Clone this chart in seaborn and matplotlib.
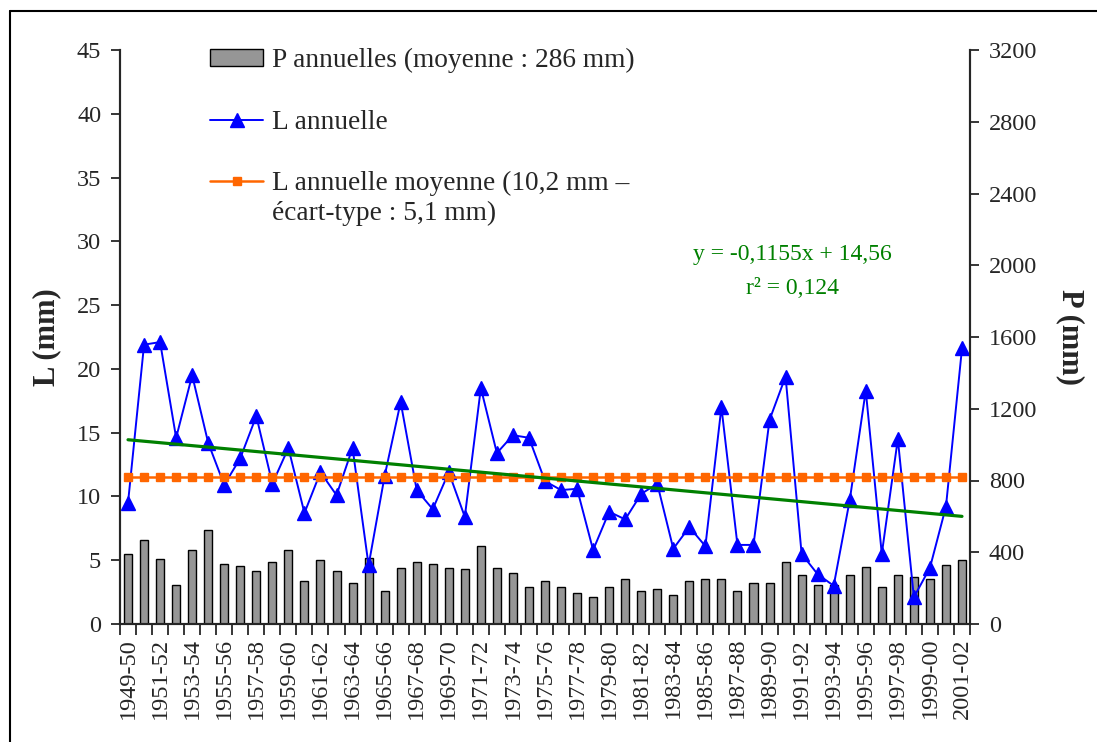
import numpy as np
import pandas as pd
import matplotlib
matplotlib.use("Agg")
import matplotlib.pyplot as plt
import seaborn as sns
from matplotlib.lines import Line2D

# saisons hydrologiques
seasons = ["1949-50", "1950-51", "1951-52", "1952-53", "1953-54", "1954-55", "1955-56",
           "1956-57", "1957-58", "1958-59", "1959-60", "1960-61", "1961-62", "1962-63",
           "1963-64", "1964-65", "1965-66", "1966-67", "1967-68", "1968-69", "1969-70",
           "1970-71", "1971-72", "1972-73", "1973-74", "1974-75", "1975-76", "1976-77",
           "1977-78", "1978-79", "1979-80", "1980-81", "1981-82", "1982-83", "1983-84",
           "1984-85", "1985-86", "1986-87", "1987-88", "1988-89", "1989-90", "1990-91",
           "1991-92", "1992-93", "1993-94", "1994-95", "1995-96", "1996-97", "1997-98",
           "1998-99", "1999-00", "2000-01", "2001-02"]

# pluie annuelle P (mm)
p_annual = [390, 468, 361, 217, 413, 522, 336, 325, 294, 348,
            413, 240, 359, 294, 229, 370, 186, 314, 348, 336,
            314, 305, 435, 314, 283, 206, 240, 208, 175, 152,
            208, 251, 186, 197, 164, 240, 251, 251, 186, 229,
            229, 348, 271, 217, 220, 271, 316, 206, 271, 262,
            251, 327, 359]

# lame ecoulee annuelle L (mm)
l_annual = [9.5, 21.9, 22.1, 14.6, 19.5, 14.2, 10.9, 13.0, 16.3, 11.0,
            13.8, 8.7, 11.9, 10.1, 13.8, 4.6, 11.6, 17.4, 10.5, 9.0,
            11.9, 8.4, 18.5, 13.4, 14.8, 14.6, 11.2, 10.5, 10.6, 5.8,
            8.8, 8.2, 10.2, 11.0, 5.9, 7.6, 6.1, 17.0, 6.2, 6.2,
            16.0, 19.4, 5.5, 3.9, 3.0, 9.7, 18.3, 5.5, 14.5, 2.1,
            4.4, 9.2, 21.6]

l_mean_drawn = 11.55
trend_slope = -0.1155
trend_intercept = 14.56

sns.set_style("ticks")
plt.rcParams["font.family"] = ["Liberation Serif", "DejaVu Serif"]
plt.rcParams["font.size"] = 17.5

df = pd.DataFrame({"saison": seasons, "P": p_annual, "L": l_annual})
df["pos"] = np.arange(len(df))
df["L_moy"] = l_mean_drawn
df["tendance"] = trend_slope * (df["pos"] + 1) + trend_intercept

W, H = 1097, 742
fig = plt.figure(figsize=(W / 100, H / 100), dpi=100)
ax = fig.add_axes([120 / W, 1 - 624 / H, 850 / W, 574 / H])
ax2 = ax.twinx()

# barres P sur l'axe de droite
sns.barplot(data=df, x="saison", y="P", ax=ax2, color="#969696", saturation=1,
            edgecolor="black", linewidth=1, width=0.5)

# courbes L sur l'axe de gauche
sns.lineplot(data=df, x="pos", y="L", ax=ax, color="#0000ff", lw=1.4,
             marker="^", markersize=9.5, mec="#0000ff", mew=1)
sns.lineplot(data=df, x="pos", y="L_moy", ax=ax, color="#ff6600", lw=1.8,
             marker="s", markersize=5.5, mec="#ff6600", mew=1)
sns.lineplot(data=df, x="pos", y="tendance", ax=ax, color="#008000", lw=2.3)

ax.set_zorder(ax2.get_zorder() + 1)
ax.patch.set_visible(False)

ax.set_xlim(-0.5, len(df) - 0.5)
ax.set_ylim(0, 45)
ax.set_yticks(range(0, 46, 5))
ax2.set_ylim(0, 3200)
ax2.set_yticks(range(0, 3201, 400))

ax.set_xticks(np.arange(0, len(df), 2))
ax.set_xticklabels(seasons[::2], rotation=90)
ax.set_xticks(np.arange(-0.5, len(df), 1), minor=True)
ax.tick_params(axis="x", which="major", length=0, pad=10, labelsize=17.5)
ax.tick_params(axis="x", which="minor", length=8, width=1.3, direction="out")
ax.tick_params(axis="y", length=6.5, width=1.3, pad=7, labelsize=17.5)
ax2.tick_params(axis="y", length=6.5, width=1.3, pad=7, labelsize=17.5)

for a in (ax, ax2):
    a.spines["top"].set_visible(False)
    for s in ("left", "right", "bottom"):
        a.spines[s].set_linewidth(1.5)

ax.set_xlabel("")
ax2.set_xlabel("")
ax.set_ylabel("L (mm)", fontsize=22, fontweight="bold", labelpad=11)
ax2.set_ylabel("P (mm)", fontsize=22, fontweight="bold", rotation=270, labelpad=34)

ax.text(0.791, 0.643, "y = -0,1155x + 14,56", transform=ax.transAxes,
        ha="center", va="center", color="#008000", fontsize=17)
ax.text(0.791, 0.584, "r² = 0,124", transform=ax.transAxes,
        ha="center", va="center", color="#008000", fontsize=17)

handles = [ax2.patches[0], ax.lines[0], ax.lines[1]]
labels = ["P annuelles (moyenne : 286 mm)", "L annuelle",
          "L annuelle moyenne (10,2 mm –"]
leg = fig.legend(handles, labels, loc="upper left", bbox_to_anchor=(210 / W, 1 - 48 / H),
                 frameon=False, fontsize=19.7, handlelength=1.95, handleheight=0.55,
                 handletextpad=0.3, labelspacing=1.33, borderpad=0, borderaxespad=0)

# deuxieme ligne de la legende, sous le troisieme libelle
fig.canvas.draw()
bb = leg.get_texts()[2].get_window_extent()
fig.text(bb.x0 / W, (bb.y0 - 30) / H, "écart-type : 5,1 mm)", fontsize=19.7,
         ha="left", va="bottom")

# cadre de la figure
fig.add_artist(Line2D([10 / W, 10 / W], [0, 1 - 11 / H], color="black", lw=1.5,
                      transform=fig.transFigure))
fig.add_artist(Line2D([10 / W, 1], [1 - 11 / H, 1 - 11 / H], color="black", lw=1.5,
                      transform=fig.transFigure))

fig.savefig("out.png", dpi=100)
